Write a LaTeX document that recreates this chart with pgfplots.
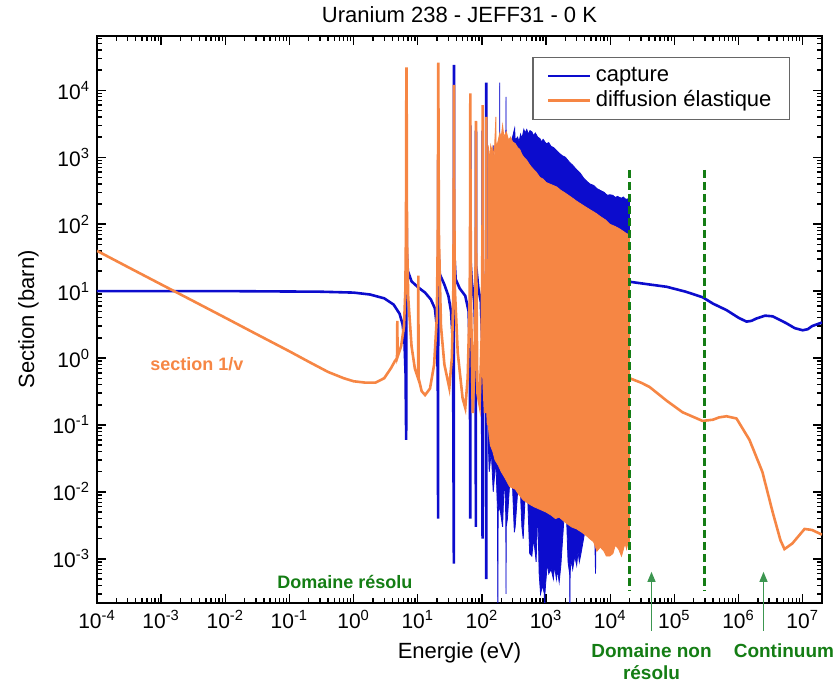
\documentclass[border=0pt]{standalone}
\usepackage{fontspec}
\setmainfont{Liberation Sans}
\usepackage{pgfplots}
\pgfplotsset{compat=1.18}
\usetikzlibrary{arrows.meta}
\definecolor{cblue}{RGB}{12,12,205}
\definecolor{corange}{RGB}{246,134,68}
\definecolor{cgreen}{RGB}{20,125,20}
\definecolor{carrow}{RGB}{60,150,80}
\begin{document}
\begin{tikzpicture}
\begin{axis}[
  xmode=log, ymode=log,
  scale only axis, width=362.5pt, height=283.5pt,
  xmin=1e-4, xmax=2e7, ymin=2.2e-4, ymax=6.5e4,
  xtick={1e-4,1e-3,1e-2,1e-1,1e0,1e1,1e2,1e3,1e4,1e5,1e6,1e7},
  xticklabels={10\textsuperscript{-4},10\textsuperscript{-3},10\textsuperscript{-2},10\textsuperscript{-1},10\textsuperscript{0},10\textsuperscript{1},10\textsuperscript{2},10\textsuperscript{3},10\textsuperscript{4},10\textsuperscript{5},10\textsuperscript{6},10\textsuperscript{7}},
  minor xtick={2e-4,3e-4,4e-4,5e-4,6e-4,7e-4,8e-4,9e-4,
    2e-3,3e-3,4e-3,5e-3,6e-3,7e-3,8e-3,9e-3,
    2e-2,3e-2,4e-2,5e-2,6e-2,7e-2,8e-2,9e-2,
    2e-1,3e-1,4e-1,5e-1,6e-1,7e-1,8e-1,9e-1,
    2,3,4,5,6,7,8,9, 20,30,40,50,60,70,80,90,
    200,300,400,500,600,700,800,900,
    2e3,3e3,4e3,5e3,6e3,7e3,8e3,9e3,
    2e4,3e4,4e4,5e4,6e4,7e4,8e4,9e4,
    2e5,3e5,4e5,5e5,6e5,7e5,8e5,9e5,
    2e6,3e6,4e6,5e6,6e6,7e6,8e6,9e6},
  ytick={1e-3,1e-2,1e-1,1e0,1e1,1e2,1e3,1e4},
  yticklabels={10\textsuperscript{-3},10\textsuperscript{-2},10\textsuperscript{-1},10\textsuperscript{0},10\textsuperscript{1},10\textsuperscript{2},10\textsuperscript{3},10\textsuperscript{4}},
  minor ytick={3e-4,4e-4,5e-4,6e-4,7e-4,8e-4,9e-4,
    2e-3,3e-3,4e-3,5e-3,6e-3,7e-3,8e-3,9e-3,
    2e-2,3e-2,4e-2,5e-2,6e-2,7e-2,8e-2,9e-2,
    2e-1,3e-1,4e-1,5e-1,6e-1,7e-1,8e-1,9e-1,
    2,3,4,5,6,7,8,9, 20,30,40,50,60,70,80,90,
    200,300,400,500,600,700,800,900,
    2e3,3e3,4e3,5e3,6e3,7e3,8e3,9e3,
    2e4,3e4,4e4,5e4,6e4},
  tick align=inside,
  major tick length=4.5pt, minor tick length=2.5pt,
  every tick/.style={black, line width=0.7pt},
  axis line style={line width=1pt},
  title={Uranium 238 - JEFF31 - 0 K},
  xlabel={Energie (eV)}, ylabel={Section (barn)},
  label style={font=\fontsize{11}{13}\selectfont},
  title style={font=\fontsize{11}{13}\selectfont, yshift=-3pt},
  tick label style={font=\fontsize{10.5}{12}\selectfont},
  legend style={at={(0.956,0.963)}, anchor=north east, draw=black!60, line width=0.6pt,
    font=\fontsize{11}{12.5}\selectfont, inner xsep=7pt, inner ysep=3pt, row sep=-1pt},
  legend cell align=left,
  legend image code/.code={\draw[#1, line width=1.4pt] (0pt,0pt) -- (21pt,0pt);},
  clip mode=individual,
]
% ---- blue dense region (resolved resonances) ----
\addplot[fill=cblue, draw=cblue, line width=0.4pt, forget plot] coordinates {
(125,8) (126,700) (128,300) (135,900) (140,500) (150,1500) (155,700) (160,1000) (170,900) (175,600)
(189,700) (189.6,1.3e4) (190.5,1200) (200,1000) (210,1500) (225,1200) (236,1500) (237.4,8e3) (238.5,1500)
(250,1300) (265,1800) (280,1500) (300,2000) (324,2700) (330,1800) (360,2000) (380,1700) (400,2200)
(420,1900) (450,2600) (470,2300) (500,2600) (530,2200) (560,2500) (600,2400) (640,2100) (680,2300)
(740,2000) (800,1900) (850,1700) (900,1850) (1000,1600) (1100,1650) (1200,1450) (1300,1400) (1460,1260)
(1600,1150) (1800,1050) (2000,1000) (2300,850) (2600,760) (3000,650) (3400,580) (3900,480) (4400,430)
(4800,400) (5500,380) (6200,340) (7000,320) (8000,300) (9000,270) (9800,275) (11000,270) (12000,250)
(13000,260) (14000,250) (15000,245) (16000,255) (17000,240) (18000,235) (19000,240) (20000,230)
(20000,0.002) (6000,0.002) (5900,0.0006) (5750,0.002) (4000,0.0025) (3500,0.0012) (3300,0.0009)
(3150,0.0013) (3000,0.0008) (2800,0.0011) (2600,0.0007) (2450,0.001) (2370,0.0006) (2350,1e-4)
(2330,0.0006) (2200,0.0009) (2100,0.0035) (1900,0.004) (1700,0.0008) (1600,0.00045) (1500,0.0007)
(1450,0.0005) (1350,0.0008) (1300,0.0005) (1200,0.0007) (1100,0.0006) (1050,0.0009) (980,0.0004)
(960,0.0003) (950,1e-4) (940,0.0003) (880,0.0004) (820,0.0003) (780,0.0006) (740,0.006) (700,0.0009)
(680,0.0012) (640,0.002) (600,0.0011) (555,0.0012) (520,0.007) (470,0.008) (440,0.002) (420,0.003)
(400,0.009) (360,0.01) (330,0.003) (320,0.0025) (300,0.012) (270,0.013) (250,0.004) (239,0.003)
(237.4,0.0003) (236,0.004) (225,0.02) (210,0.003) (195,0.005) (185,0.006) (179,0.005) (177,1e-4)
(175,0.005) (165,0.03) (150,0.01) (140,0.04) (130,0.02) (126,0.05) (125,8)
};
% ---- blue line (legend: capture) ----
\addplot[cblue, line width=1.3pt] coordinates {
(1e-4,10) (1e-2,10) (0.3,9.8) (1,9.5) (1.8,8.9) (3,7.8) (4.2,6.3) (5.2,4.6) (5.8,3.2) (6.2,1.8)
(6.45,0.6) (6.6,0.06) (6.67,800) (6.74,40) (7,20) (8,14) (10,11.5) (13,9.5) (16,7.5) (18.5,5.5)
(19.8,3) (20.5,0.5) (20.75,0.004) (20.9,1500) (21.05,40) (22,18) (26,12.5) (30,8.5) (33,5) (35.5,1.5)
(36.5,8.5e-4) (36.6,2.3e4) (36.8,2.3e4) (36.9,40) (39,15) (45,11) (55,8.5) (62,5) (65,1) (65.8,0.004) (66,3000)
(66.2,30) (70,13) (76,7) (79.5,2) (80.5,0.003) (80.7,2500) (80.9,25) (88,11) (96,7) (100.5,2)
(102.3,0.002) (102.5,2500) (102.7,20) (108,9) (114,5) (116.7,5e-4) (116.9,1.3e4) (117.1,15) (121,9) (125,8)
};
\addlegendentry{capture}
\addplot[cblue, line width=1.3pt, forget plot] coordinates {
(2e4,13.8) (4e4,12.6) (7.6e4,11.6) (1.5e5,9.8) (2.75e5,8.1) (4e5,6.5) (6.5e5,5.2) (1e6,4.0)
(1.33e6,3.5) (1.6e6,3.6) (1.9e6,3.9) (2.6e6,4.3) (3.4e6,4.2) (4.2e6,3.8) (5.6e6,3.3) (7.5e6,2.8)
(1e7,2.6) (1.2e7,2.7) (1.4e7,3.0) (2e7,3.4)
};
% ---- orange dense region ----
\addplot[fill=corange, draw=corange, line width=0.4pt, forget plot] coordinates {
(125,0.1) (125.5,1500) (130,900) (137,1500) (145,1200) (148,1400) (155,1000) (165,4000) (166.5,1500)
(175,1600) (190,2300) (200,2000) (210,3000) (220,2000) (240,2400) (260,1800) (280,2000) (300,1700)
(330,1600) (360,1400) (390,1300) (420,1100) (450,1000) (500,900) (550,780) (600,700) (700,600)
(800,500) (900,470) (1000,420) (1200,390) (1460,360) (1700,320) (2000,290) (2500,250) (3000,220)
(3800,190) (4800,165) (6000,145) (7000,130) (8500,115) (9800,100) (12000,92) (14000,85) (16000,78)
(18000,72) (20000,70)
(20000,0.0016) (19000,0.0018) (18000,0.0014) (17000,0.0017) (15000,0.0011) (13500,0.0014)
(12000,0.0016) (11000,0.0012) (9800,0.0011) (8700,0.0011) (8000,0.0013) (7000,0.0015) (6200,0.0013)
(5500,0.0018) (4800,0.002) (4300,0.0022) (3600,0.0025) (3000,0.0028) (2500,0.003) (2000,0.0035)
(1600,0.0042) (1400,0.004) (1200,0.0045) (1000,0.005) (800,0.0055) (650,0.006) (560,0.0065)
(440,0.0076) (380,0.009) (330,0.011) (270,0.012) (230,0.016) (200,0.02) (180,0.025) (160,0.03)
(148,0.04) (135,0.05) (125,0.1)
};
% ---- orange line (legend: diffusion elastique) ----
\addplot[corange, line width=1.3pt] coordinates {
(1e-4,40) (3e-4,23) (1e-3,12.6) (3e-3,7.3) (1e-2,4) (3e-2,2.3) (0.1,1.26) (0.2,0.88) (0.4,0.62)
(0.7,0.5) (1,0.45) (1.5,0.43) (2.2,0.43) (3,0.5) (3.8,0.7) (4.4,0.9) (4.75,1.0) (4.8,3.6) (4.85,1.05)
(5.5,1.5) (6.1,3) (6.4,10) (6.55,80) (6.6,1500) (6.64,1.6e4) (6.67,2.2e4) (6.7,1.6e4) (6.74,1500) (6.8,60) (7.1,8) (8,1.5)
(9,0.7) (10.1,0.5) (10.2,17) (10.3,0.5) (11.5,0.32) (13,0.28) (15.5,0.35) (18,0.8) (19.8,4) (20.5,60)
(20.75,2000) (20.85,2e4) (20.9,2.6e4) (20.95,2e4) (21.05,2000) (21.4,60) (23,3) (26,0.8) (31,0.36) (34,1) (35.8,10) (36.4,200)
(36.6,8000) (36.7,1.2e4) (36.8,8000) (37,200) (38,10) (42,1.2) (50,0.25) (55,0.18) (60,0.5) (64.5,8) (65.7,300) (65.9,7000) (66,9e3)
(66.1,7000) (66.3,300) (68,5) (72,0.15) (77,1) (80.2,50) (80.7,3500) (81.2,50) (85,0.3) (92,0.2) (99,2)
(102.3,100) (102.5,6e3) (102.7,100) (106,0.5) (112,0.15) (116.5,60) (116.9,4000) (117.3,50)
(121,0.2) (125,0.1)
};
\addlegendentry{diffusion élastique}
\addplot[corange, line width=1.3pt, forget plot] coordinates {
(2e4,0.5) (3e4,0.43) (4.1e4,0.37) (7.6e4,0.23) (1.34e5,0.155) (2.75e5,0.115) (4e5,0.12) (5e5,0.13)
(6.5e5,0.135) (9.3e5,0.125) (1.48e6,0.06) (2.35e6,0.02) (3.4e6,0.005) (4.5e6,0.0019) (5.2e6,0.0014)
(6.9e6,0.0017) (1.07e7,0.0028) (1.4e7,0.0027) (2e7,0.0023)
};
% ---- domain limits ----
\addplot[cgreen, line width=1.2pt, dash pattern=on 4pt off 2pt, forget plot] coordinates {(2e4,650) (2e4,3.4e-4)};
\addplot[cgreen, line width=1.2pt, dash pattern=on 4pt off 2pt, forget plot] coordinates {(2.95e5,650) (2.95e5,3.4e-4)};
% ---- annotations ----
\node[font=\bfseries\fontsize{9}{11}\selectfont, text=corange] at (axis cs:3.6e-3,0.8) {section 1/v};
\node[font=\bfseries\fontsize{9}{11}\selectfont, text=cgreen] at (axis cs:0.73,4.5e-4) {Domaine résolu};
\draw[carrow, line width=0.6pt, -{Triangle[length=5pt,width=4pt]}] ([yshift=-14pt]axis cs:4.4e4,2.2e-4) -- (axis cs:4.4e4,6.4e-4);
\draw[carrow, line width=0.6pt, -{Triangle[length=5pt,width=4pt]}] ([yshift=-14pt]axis cs:2.45e6,2.2e-4) -- (axis cs:2.45e6,6.4e-4);
\node[font=\bfseries\fontsize{9.5}{11}\selectfont, text=cgreen, align=center, anchor=north, inner sep=0pt]
  at ([yshift=-20pt]axis cs:4.4e4,2.2e-4) {Domaine non\\résolu};
\node[font=\bfseries\fontsize{9.5}{11}\selectfont, text=cgreen, anchor=north, inner sep=0pt]
  at ([yshift=-20pt]axis cs:5.1e6,2.2e-4) {Continuum};
\end{axis}
\path ([xshift=-48.5pt,yshift=-41.5pt]current axis.south west) rectangle ([xshift=6.5pt,yshift=17pt]current axis.north east);
\end{tikzpicture}
\end{document}
